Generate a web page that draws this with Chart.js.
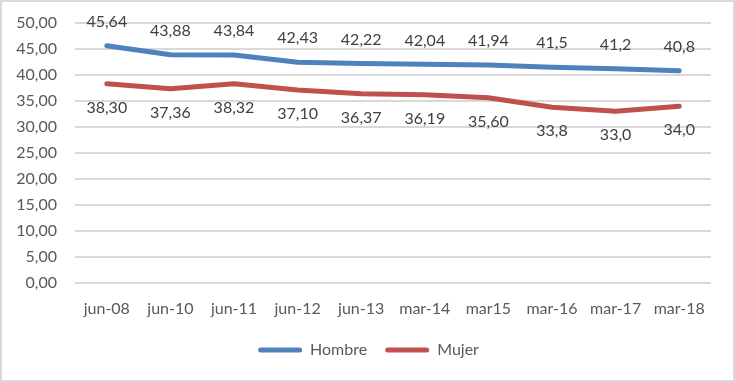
<!DOCTYPE html>
<html><head><meta charset="utf-8">
<script src="https://cdn.jsdelivr.net/npm/chart.js@4/dist/chart.umd.min.js"></script>
<style>
html,body{margin:0;padding:0;background:#fff;}
#wrap{position:relative;width:731px;height:378px;border:2px solid #d9d9d9;background:#fff;}
</style></head>
<body><div id="wrap"><canvas id="c" width="731" height="378"></canvas></div>
<script>
const categories = ["jun-08","jun-10","jun-11","jun-12","jun-13","mar-14","mar15","mar-16","mar-17","mar-18"];
const hombre = [45.64, 43.88, 43.84, 42.43, 42.22, 42.04, 41.94, 41.5, 41.2, 40.8];
const mujer  = [38.30, 37.36, 38.32, 37.10, 36.37, 36.19, 35.60, 33.8, 33.0, 34.0];
const hombreLabels = ["45,64","43,88","43,84","42,43","42,22","42,04","41,94","41,5","41,2","40,8"];
const mujerLabels  = ["38,30","37,36","38,32","37,10","36,37","36,19","35,60","33,8","33,0","34,0"];

const FONT = "Lato, 'Open Sans', sans-serif";

const labelPlugin = {
  id: 'pointLabels',
  afterLayout(chart) {
    // keep wide horizontal legend spacing while keeping legend row position
    if (chart.legend) {
      chart.legend.top -= 10; chart.legend.bottom -= 10;
      chart.legend.left += 12; chart.legend.right += 12;
    }
  },
  afterDatasetsDraw(chart) {
    const ctx = chart.ctx;
    ctx.save();
    ctx.font = "16px " + FONT;
    ctx.fillStyle = "#404040";
    ctx.textAlign = "center";
    ctx.textBaseline = "middle";
    chart.data.datasets.forEach((ds, i) => {
      const meta = chart.getDatasetMeta(i);
      meta.data.forEach((pt, j) => {
        const off = ds.labelPos === 'above' ? -24 : 24;
        ctx.fillText(ds.labelTexts[j], pt.x, pt.y + off);
      });
    });
    ctx.restore();
  }
};

new Chart(document.getElementById('c'), {
  type: 'line',
  data: {
    labels: categories,
    datasets: [
      {label: 'Hombre', data: hombre, borderColor: '#4f81bd', backgroundColor: '#4f81bd',
       borderWidth: 5, pointRadius: 0, tension: 0, borderCapStyle: 'round', borderJoinStyle: 'round',
       labelPos: 'above', labelTexts: hombreLabels},
      {label: 'Mujer', data: mujer, borderColor: '#c0504d', backgroundColor: '#c0504d',
       borderWidth: 5, pointRadius: 0, tension: 0, borderCapStyle: 'round', borderJoinStyle: 'round',
       labelPos: 'below', labelTexts: mujerLabels}
    ]
  },
  options: {
    responsive: false,
    animation: false,
    layout: {padding: {left: 0, right: 22, top: 21, bottom: 11}},
    plugins: {
      tooltip: {enabled: false},
      legend: {
        position: 'bottom',
        maxHeight: 35,
        labels: {
          font: {family: FONT, size: 16},
          color: '#595959',
          boxWidth: 44,
          boxHeight: 5,
          padding: 18,
          generateLabels(chart) {
            return chart.data.datasets.map((ds, i) => ({
              text: ds.label, fillStyle: ds.borderColor, strokeStyle: ds.borderColor,
              lineWidth: 0, borderRadius: 2.5, datasetIndex: i, fontColor: '#595959'
            }));
          },
          useBorderRadius: true
        }
      }
    },
    scales: {
      y: {
        min: 0, max: 50,
        ticks: {stepSize: 5, padding: 18, color: '#595959', font: {family: FONT, size: 16},
          callback: v => v.toFixed(2).replace('.', ',')},
        grid: {color: '#d9d9d9', lineWidth: 2, drawTicks: false},
        border: {display: false},
        afterFit(scale) { scale.width = 73; scale.paddingTop = 0; scale.paddingBottom = 0; }
      },
      x: {
        offset: true,
        ticks: {padding: 16, color: '#595959', font: {family: FONT, size: 16}, maxRotation: 0, autoSkip: false},
        grid: {display: false, drawTicks: false, offset: true},
        border: {display: false},
        afterFit(scale) { scale.paddingLeft = 0; scale.paddingRight = 0; }
      }
    }
  },
  plugins: [labelPlugin]
});
</script></body></html>
